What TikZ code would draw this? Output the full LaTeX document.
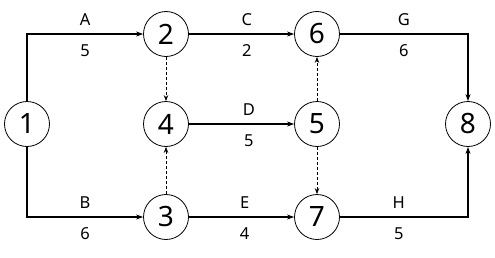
\documentclass[tikz,border=0pt]{standalone}
\usepackage{fontspec}
\setmainfont{Noto Sans}
\usetikzlibrary{arrows.meta}
\begin{document}
\begin{tikzpicture}[x=1pt,y=-1pt,
  ev/.style={circle,draw,line width=0.8pt,minimum size=45pt,inner sep=0pt,font=\fontsize{28}{30}\selectfont},
  act/.style={line width=1.5pt,-{Stealth[length=7pt,width=5pt]}},
  dum/.style={line width=0.8pt,dashed,dash pattern=on 3pt off 2pt,-{Stealth[length=6pt,width=4.5pt]}},
  lab/.style={font=\fontsize{16.5}{18}\selectfont,inner sep=0pt},
  up/.style={lab,above=7.5pt},
  dn/.style={lab,below=9.5pt}]
\useasboundingbox (0,0) rectangle (495,257);
\node[ev] (n1) at (27,124) {1};
\node[ev] (n2) at (166,34) {2};
\node[ev] (n3) at (166,217) {3};
\node[ev] (n4) at (166,124) {4};
\node[ev] (n5) at (317,124) {5};
\node[ev] (n6) at (317,34) {6};
\node[ev] (n7) at (317,217) {7};
\node[ev] (n8) at (468,124) {8};
\draw[act] (n1) |- (n2) node[up,pos=0.75] {A} node[dn,pos=0.75] {5};
\draw[act] (n1) |- (n3) node[up,pos=0.75] {B} node[dn,pos=0.75] {6};
\draw[act] (n2) -- (n6) node[up,pos=0.55] {C} node[dn,pos=0.55] {2};
\draw[act] (n4) -- (n5) node[up,pos=0.57] {D} node[dn,pos=0.57] {5};
\draw[act] (n3) -- (n7) node[up,pos=0.53] {E} node[dn,pos=0.53] {4};
\draw[act] (n6) -| (n8) node[up,pos=0.25] {G} node[dn,pos=0.25] {6};
\draw[act] (n7) -| (n8) node[up,pos=0.23] {H} node[dn,pos=0.23] {5};
\draw[dum] (n2) -- (n4);
\draw[dum] (n3) -- (n4);
\draw[dum] (n5) -- (n6);
\draw[dum] (n5) -- (n7);
\end{tikzpicture}
\end{document}
